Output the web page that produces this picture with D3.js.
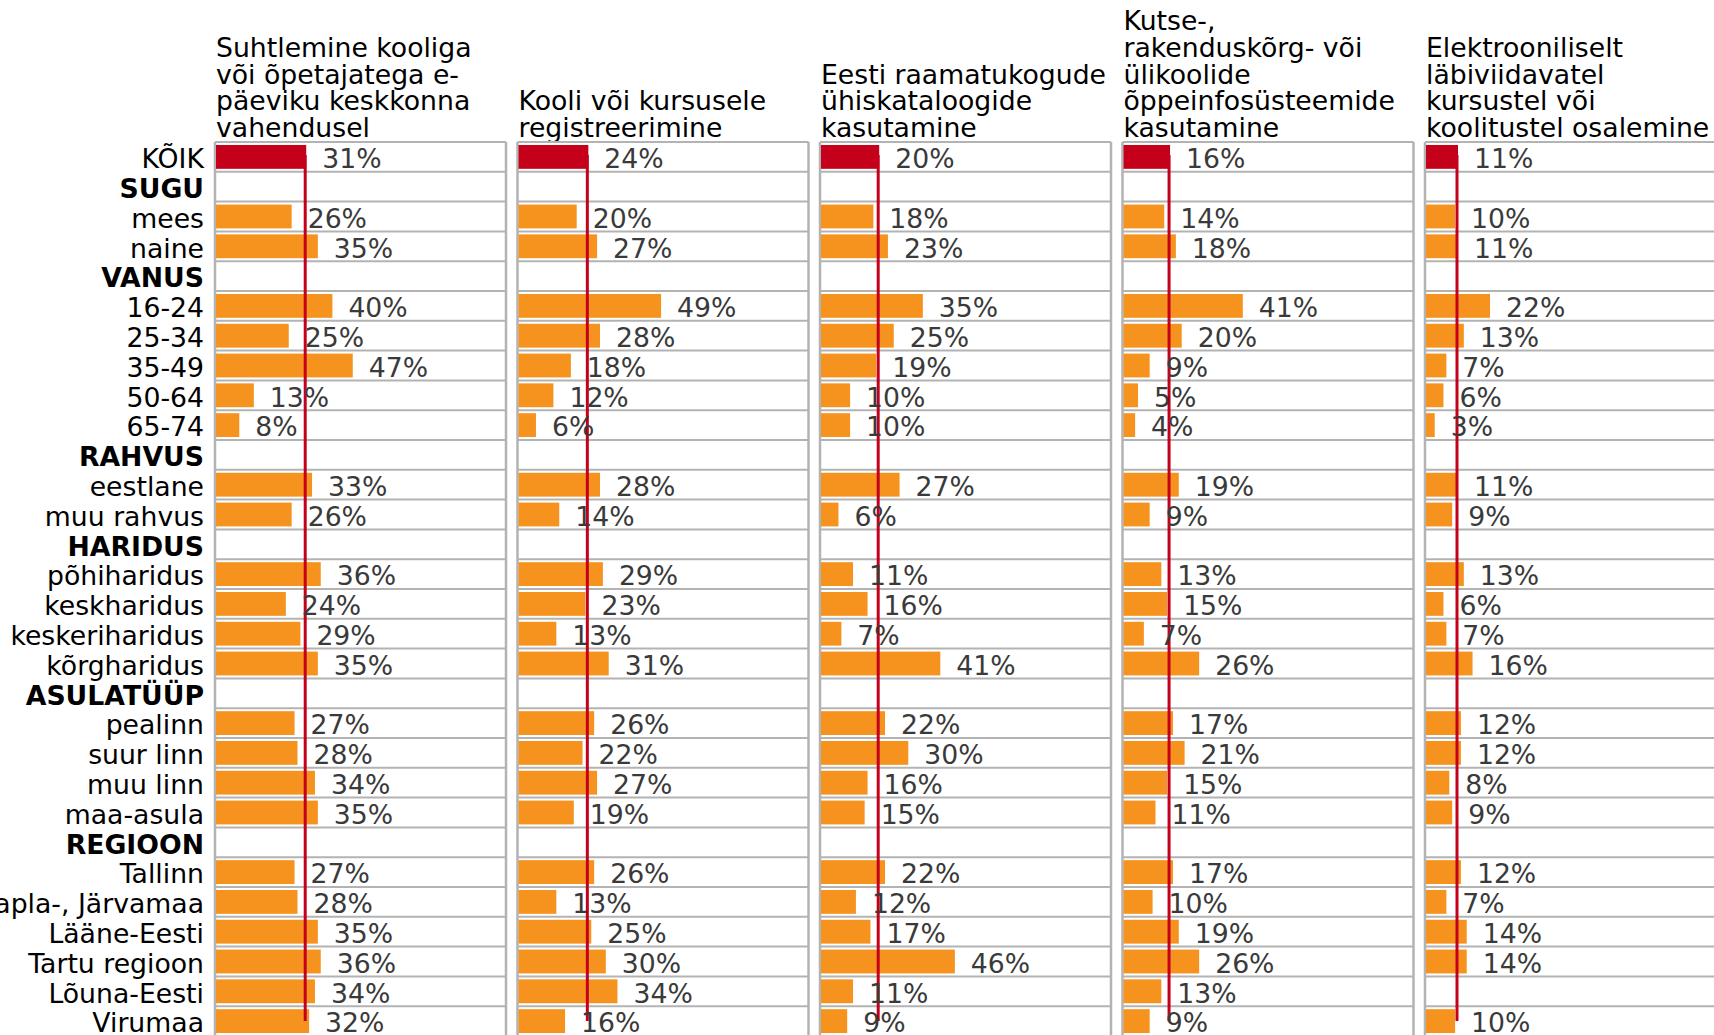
<!DOCTYPE html>
<html>
<head>
<meta charset="utf-8">
<script src="https://cdn.jsdelivr.net/npm/d3@7"></script>
<style>
  html, body { margin: 0; padding: 0; background: #fff; overflow: hidden; }
  svg { display: block; font-family: "DejaVu Sans", Verdana, sans-serif; }
</style>
</head>
<body>
<svg id="chart" width="1714" height="1035"></svg>
<script>
// ---------- DATA ----------
const categories = [
  "KÕIK", "SUGU", "mees", "naine", "VANUS", "16-24", "25-34", "35-49", "50-64", "65-74",
  "RAHVUS", "eestlane", "muu rahvus", "HARIDUS", "põhiharidus", "keskharidus", "keskeriharidus", "kõrgharidus",
  "ASULATÜÜP", "pealinn", "suur linn", "muu linn", "maa-asula",
  "REGIOON", "Tallinn", "Rapla-, Järvamaa", "Lääne-Eesti", "Tartu regioon", "Lõuna-Eesti", "Virumaa"
];
const headerCategories = ["SUGU", "VANUS", "RAHVUS", "HARIDUS", "ASULATÜÜP", "REGIOON"];
const totalCategory = "KÕIK";

const seriesTitles = [
  ["Suhtlemine kooliga", "või õpetajatega e-", "päeviku keskkonna", "vahendusel"],
  ["Kooli või kursusele", "registreerimine"],
  ["Eesti raamatukogude", "ühiskataloogide", "kasutamine"],
  ["Kutse-,", "rakenduskõrg- või", "ülikoolide", "õppeinfosüsteemide", "kasutamine"],
  ["Elektrooniliselt", "läbiviidavatel", "kursustel või", "koolitustel osalemine"]
];

// values aligned with categories (null = header row / no data)
const series1 = [31, null, 26, 35, null, 40, 25, 47, 13, 8, null, 33, 26, null, 36, 24, 29, 35, null, 27, 28, 34, 35, null, 27, 28, 35, 36, 34, 32];
const series2 = [24, null, 20, 27, null, 49, 28, 18, 12, 6, null, 28, 14, null, 29, 23, 13, 31, null, 26, 22, 27, 19, null, 26, 13, 25, 30, 34, 16];
const series3 = [20, null, 18, 23, null, 35, 25, 19, 10, 10, null, 27, 6, null, 11, 16, 7, 41, null, 22, 30, 16, 15, null, 22, 12, 17, 46, 11, 9];
const series4 = [16, null, 14, 18, null, 41, 20, 9, 5, 4, null, 19, 9, null, 13, 15, 7, 26, null, 17, 21, 15, 11, null, 17, 10, 19, 26, 13, 9];
const series5 = [11, null, 10, 11, null, 22, 13, 7, 6, 3, null, 11, 9, null, 13, 6, 7, 16, null, 12, 12, 8, 9, null, 12, 7, 14, 14, null, 10];

const allSeries = [series1, series2, series3, series4, series5];

// ---------- STYLE ----------
const COL_BAR = "#f6931f";
const COL_TOTAL = "#c4001b";
const COL_GRID = "#b3b3b3";
const COL_VALUE = "#3a3a3a";
const FONT_SIZE = 26.7;

// ---------- SCALES ----------
const svg = d3.select("#chart");
const panelIdx = d3.range(allSeries.length);

const xPanel = d3.scaleBand().domain(panelIdx).range([215, 1716]).paddingInner(0.038).paddingOuter(0);
const panelW = xPanel.bandwidth();
const x = d3.scaleLinear().domain([0, 100]).range([0, panelW]);

const y = d3.scaleBand().domain(categories).range([142, 142 + categories.length * 29.8]).padding(0);
const yBar = d3.scaleBand().domain(categories).range(y.range()).paddingInner(0.2).paddingOuter(0.1);

// ---------- CATEGORY LABELS ----------
svg.append("g")
  .selectAll("text")
  .data(categories)
  .join("text")
  .attr("x", 204)
  .attr("y", d => y(d) + y.bandwidth() / 2)
  .attr("dy", "0.42em")
  .attr("text-anchor", "end")
  .attr("font-size", FONT_SIZE)
  .attr("font-weight", d => headerCategories.includes(d) ? "bold" : "normal")
  .attr("fill", "#000")
  .text(d => d);

// ---------- PANELS ----------
const lineH = 26.67;
panelIdx.forEach(i => {
  const g = svg.append("g").attr("transform", `translate(${xPanel(i)},0)`);
  const vals = allSeries[i];
  const rows = categories.map((c, k) => ({ cat: c, v: vals[k] }));

  // title (bottom aligned)
  const lines = seriesTitles[i];
  g.append("g").selectAll("text")
    .data(lines)
    .join("text")
    .attr("x", 1)
    .attr("y", (d, k) => 137 - (lines.length - 1 - k) * lineH)
    .attr("font-size", FONT_SIZE)
    .attr("fill", "#000")
    .text(d => d);

  // row grid
  g.append("g").selectAll("line")
    .data(categories)
    .join("line")
    .attr("x1", 0).attr("x2", panelW)
    .attr("y1", d => y(d)).attr("y2", d => y(d))
    .attr("stroke", COL_GRID).attr("stroke-width", 2);
  g.append("line")
    .attr("x1", 0).attr("x2", 0)
    .attr("y1", y.range()[0]).attr("y2", y.range()[1])
    .attr("stroke", COL_GRID).attr("stroke-width", 2.5);
  g.append("line")
    .attr("x1", panelW).attr("x2", panelW)
    .attr("y1", y.range()[0]).attr("y2", y.range()[1])
    .attr("stroke", COL_GRID).attr("stroke-width", 2.5);

  // bars
  g.append("g").selectAll("rect")
    .data(rows.filter(r => r.v != null))
    .join("rect")
    .attr("x", x(0) + 1)
    .attr("y", r => yBar(r.cat))
    .attr("width", r => x(r.v) - x(0))
    .attr("height", yBar.bandwidth())
    .attr("fill", r => r.cat === totalCategory ? COL_TOTAL : COL_BAR);

  // total reference line
  const totalVal = vals[categories.indexOf(totalCategory)];
  const lastCat = categories[categories.length - 1];
  g.append("line")
    .attr("x1", x(totalVal)).attr("x2", x(totalVal))
    .attr("y1", y(totalCategory) + y.bandwidth() / 2 - 2)
    .attr("y2", y(lastCat) + y.bandwidth() / 2)
    .attr("stroke", COL_TOTAL).attr("stroke-width", 3);

  // value labels
  g.append("g").selectAll("text")
    .data(rows.filter(r => r.v != null))
    .join("text")
    .attr("x", r => x(r.v) + 17)
    .attr("y", r => y(r.cat) + y.bandwidth() / 2)
    .attr("dy", "0.42em")
    .attr("font-size", FONT_SIZE)
    .attr("fill", COL_VALUE)
    .text(r => r.v + "%");
});
</script>
</body>
</html>
